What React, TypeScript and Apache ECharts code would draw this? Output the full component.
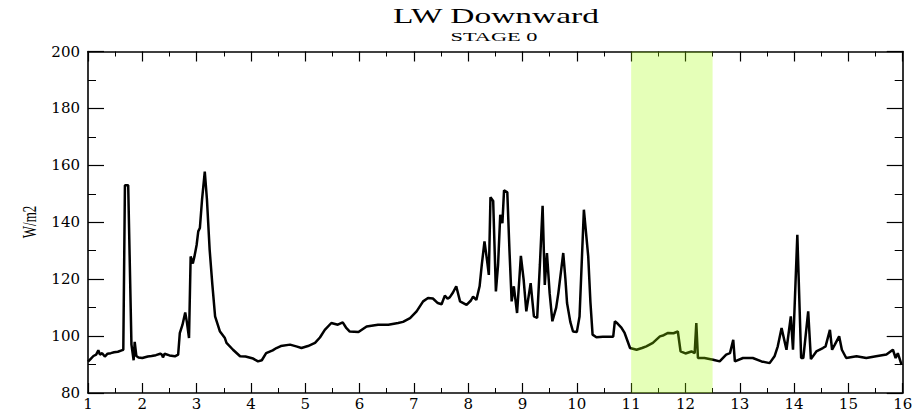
import React, { useEffect, useRef } from "react";
import * as echarts from "echarts";

// Day (x) and LW downward flux (W/m2)
const times = [
  1.0, 1.05, 1.1, 1.15, 1.19, 1.22, 1.26, 1.31, 1.36, 1.42, 1.48, 1.55, 1.62, 1.65,
  1.68, 1.74, 1.8, 1.84, 1.86, 1.89, 1.93, 2.0, 2.1, 2.17, 2.25, 2.33, 2.36, 2.38,
  2.41, 2.5, 2.6, 2.66, 2.69, 2.74, 2.79, 2.82, 2.86, 2.89, 2.93, 2.96, 2.98, 3.0,
  3.03, 3.06, 3.1, 3.15, 3.19, 3.24, 3.29, 3.34, 3.43, 3.52, 3.55, 3.67, 3.8, 3.9,
  4.04, 4.13, 4.2, 4.28, 4.4, 4.47, 4.55, 4.72, 4.85, 4.93, 5.05, 5.18, 5.27, 5.36,
  5.48, 5.6, 5.69, 5.75, 5.82, 5.98, 6.13, 6.34, 6.53, 6.71, 6.8, 6.93, 7.05, 7.17,
  7.26, 7.35, 7.44, 7.51, 7.57, 7.62, 7.66, 7.72, 7.78, 7.85, 7.97, 8.05, 8.09, 8.15,
  8.21, 8.25, 8.3, 8.35, 8.38, 8.41, 8.46, 8.51, 8.55, 8.59, 8.63, 8.66, 8.72, 8.76,
  8.8, 8.84, 8.9, 8.97, 9.02, 9.07, 9.15, 9.21, 9.27, 9.32, 9.37, 9.41, 9.45, 9.5,
  9.55, 9.62, 9.66, 9.75, 9.79, 9.82, 9.88, 9.93, 10.0, 10.05, 10.13, 10.21, 10.25,
  10.29, 10.36, 10.48, 10.67, 10.7, 10.75, 10.82, 10.88, 10.98, 11.1, 11.2, 11.28,
  11.4, 11.53, 11.6, 11.68, 11.78, 11.86, 11.91, 12.0, 12.11, 12.17, 12.2, 12.23,
  12.35, 12.51, 12.63, 12.75, 12.82, 12.88, 12.91, 13.06, 13.24, 13.4, 13.55, 13.64,
  13.7, 13.77, 13.86, 13.94, 13.98, 14.06, 14.13, 14.17, 14.26, 14.31, 14.41, 14.53,
  14.58, 14.66, 14.7, 14.75, 14.83, 14.88, 14.96, 15.15, 15.33, 15.51, 15.7, 15.82,
  15.87, 15.91, 15.98,
];
const values = [
  91.0, 92.0, 93.0, 93.5, 95.0, 93.5, 94.0, 92.8, 93.8, 94.0, 94.3, 94.5, 95.0, 95.2,
  153, 153, 97, 91.5, 98, 93, 92.5, 92.3, 92.8, 93.0, 93.3, 93.8, 93.5, 92.5,
  93.8, 93.2, 92.9, 93.5, 101, 104, 108.3, 105, 99.3, 128, 125.5, 128, 130, 132,
  136.8, 138, 148, 157.8, 148, 130.3, 118, 106.9, 101.6, 99.3, 97.6, 95.2, 92.9, 92.8,
  92.1, 91.1, 91.5, 94.0, 95, 95.8, 96.5, 97.0, 96.3, 95.8, 96.5, 97.6, 99.5, 102.2,
  104.6, 104.0, 104.8, 103, 101.6, 101.4, 103.4, 104.0, 104.0, 104.6, 105, 106.3, 108.7, 112.2,
  113.4, 113.2, 111.6, 111.2, 114.2, 113.2, 113.6, 115.3, 117.5, 112.2, 111.0, 112.5, 113.9, 112.7,
  117.5, 125, 133.3, 126.2, 121.5, 148.8, 147.5, 115.7, 125, 142.6, 139.7, 151.2, 150.5, 130,
  112.2, 117.5, 108.1, 128.2, 120, 108.7, 118.6, 106.9, 106.4, 125, 145.8, 118.0, 129.2, 115,
  105.2, 110, 115.1, 129.2, 120, 111.6, 105, 101.6, 101.4, 106.9, 144.4, 128, 112,
  100.5, 99.6, 99.8, 99.8, 105.2, 104.4, 103, 101.1, 95.8, 95.2, 95.8, 96.4,
  97.6, 99.9, 100.3, 101.1, 101.0, 101.6, 94.6, 93.9, 94.6, 94.0, 104.6, 92.3,
  92.3, 91.7, 91.1, 93.5, 94, 98.7, 91.1, 92.3, 92.3, 91.1, 90.5, 92.9,
  96.4, 102.8, 95.2, 106.9, 95.2, 135.6, 92.3, 92.3, 108.7, 91.9, 94.6, 95.8,
  96.4, 102.2, 95.2, 97, 99.9, 95.2, 92.3, 92.9, 92.3, 92.9, 93.5, 95.2,
  92.3, 94, 89.9,
];

const xMin = 1;
const xMax = 16;
const yMin = 80;
const yMax = 200;
const bandRange = [11, 12.5];
const titleText = "LW Downward";
const subtitleText = "STAGE 0";
const yAxisName = "W/m2";

export default function App() {
  const ref = useRef<HTMLDivElement>(null);

  useEffect(() => {
    const chart = echarts.init(ref.current!, null, { renderer: "svg" });
    const lineData = times.map((t, i) => [t, values[i]]);
    const serif = "'Liberation Serif', 'DejaVu Serif', serif";
    const labelFont = "'DejaVu Serif', 'Liberation Serif', serif";

    const xAxisBase = (pos: string, showLabel: boolean) => ({
      type: "value",
      position: pos,
      min: xMin,
      max: xMax,
      interval: 1,
      axisLine: { show: true, onZero: false, lineStyle: { color: "#000", width: 1.6 } },
      axisTick: { show: true, inside: true, length: 10, lineStyle: { color: "#000", width: 1.2 } },
      minorTick: { show: true, splitNumber: 2, length: 5, lineStyle: { color: "#000", width: 1 } },
      splitLine: { show: false },
      axisLabel: {
        show: showLabel,
        color: "#000",
        fontFamily: labelFont,
        fontSize: 15,
        margin: 3,
        showMinLabel: true,
        showMaxLabel: true,
      },
    });
    const yAxisBase = (pos: string, showLabel: boolean) => ({
      type: "value",
      position: pos,
      min: yMin,
      max: yMax,
      interval: 20,
      axisLine: { show: true, onZero: false, lineStyle: { color: "#000", width: 1.6 } },
      axisTick: { show: true, inside: true, length: 16, lineStyle: { color: "#000", width: 1.2 } },
      minorTick: { show: true, splitNumber: 2, length: 8, lineStyle: { color: "#000", width: 1 } },
      splitLine: { show: false },
      axisLabel: {
        show: showLabel,
        color: "#000",
        fontFamily: labelFont,
        fontSize: 15,
        margin: 8,
        showMinLabel: true,
        showMaxLabel: true,
      },
    });

    chart.setOption({
      animation: false,
      backgroundColor: "#ffffff",
      grid: { left: 88, right: 21.3, top: 51.5, bottom: 17.7, containLabel: false },
      xAxis: [xAxisBase("bottom", true), xAxisBase("top", false)],
      yAxis: [yAxisBase("left", true), yAxisBase("right", false)],
      graphic: [
        {
          type: "text",
          x: 496,
          y: 16,
          scaleX: 1.52,
          style: {
            text: titleText,
            font: `22px ${serif}`,
            fill: "#000",
            align: "center",
            verticalAlign: "middle",
            textAlign: "center",
            textVerticalAlign: "middle",
          },
        },
        {
          type: "text",
          x: 494,
          y: 36.5,
          scaleX: 1.72,
          style: {
            text: subtitleText,
            font: `13px ${serif}`,
            fill: "#000",
            align: "center",
            verticalAlign: "middle",
            textAlign: "center",
            textVerticalAlign: "middle",
          },
        },
        {
          type: "text",
          x: 30,
          y: 222,
          rotation: Math.PI / 2,
          scaleY: 1.5,
          style: {
            text: yAxisName,
            font: `13px ${serif}`,
            fill: "#000",
            align: "center",
            verticalAlign: "middle",
            textAlign: "center",
            textVerticalAlign: "middle",
          },
        },
      ],
      series: [
        {
          type: "line",
          data: lineData,
          showSymbol: false,
          symbol: "none",
          lineStyle: { color: "#000", width: 2.5 },
          z: 2,
        },
        {
          type: "custom",
          z: 5,
          silent: true,
          data: [bandRange],
          renderItem: (params: any, api: any) => {
            const p1 = api.coord([api.value(0), yMax]);
            const p2 = api.coord([api.value(1), yMin]);
            return {
              type: "rect",
              shape: { x: p1[0], y: p1[1], width: p2[0] - p1[0], height: p2[1] - p1[1] },
              style: { fill: "rgba(160,255,0,0.28)" },
            };
          },
        },
      ],
    });

    return () => chart.dispose();
  }, []);

  return (
    <div
      ref={ref}
      style={{ position: "fixed", left: 0, top: 0, width: 924, height: 411 }}
    />
  );
}
